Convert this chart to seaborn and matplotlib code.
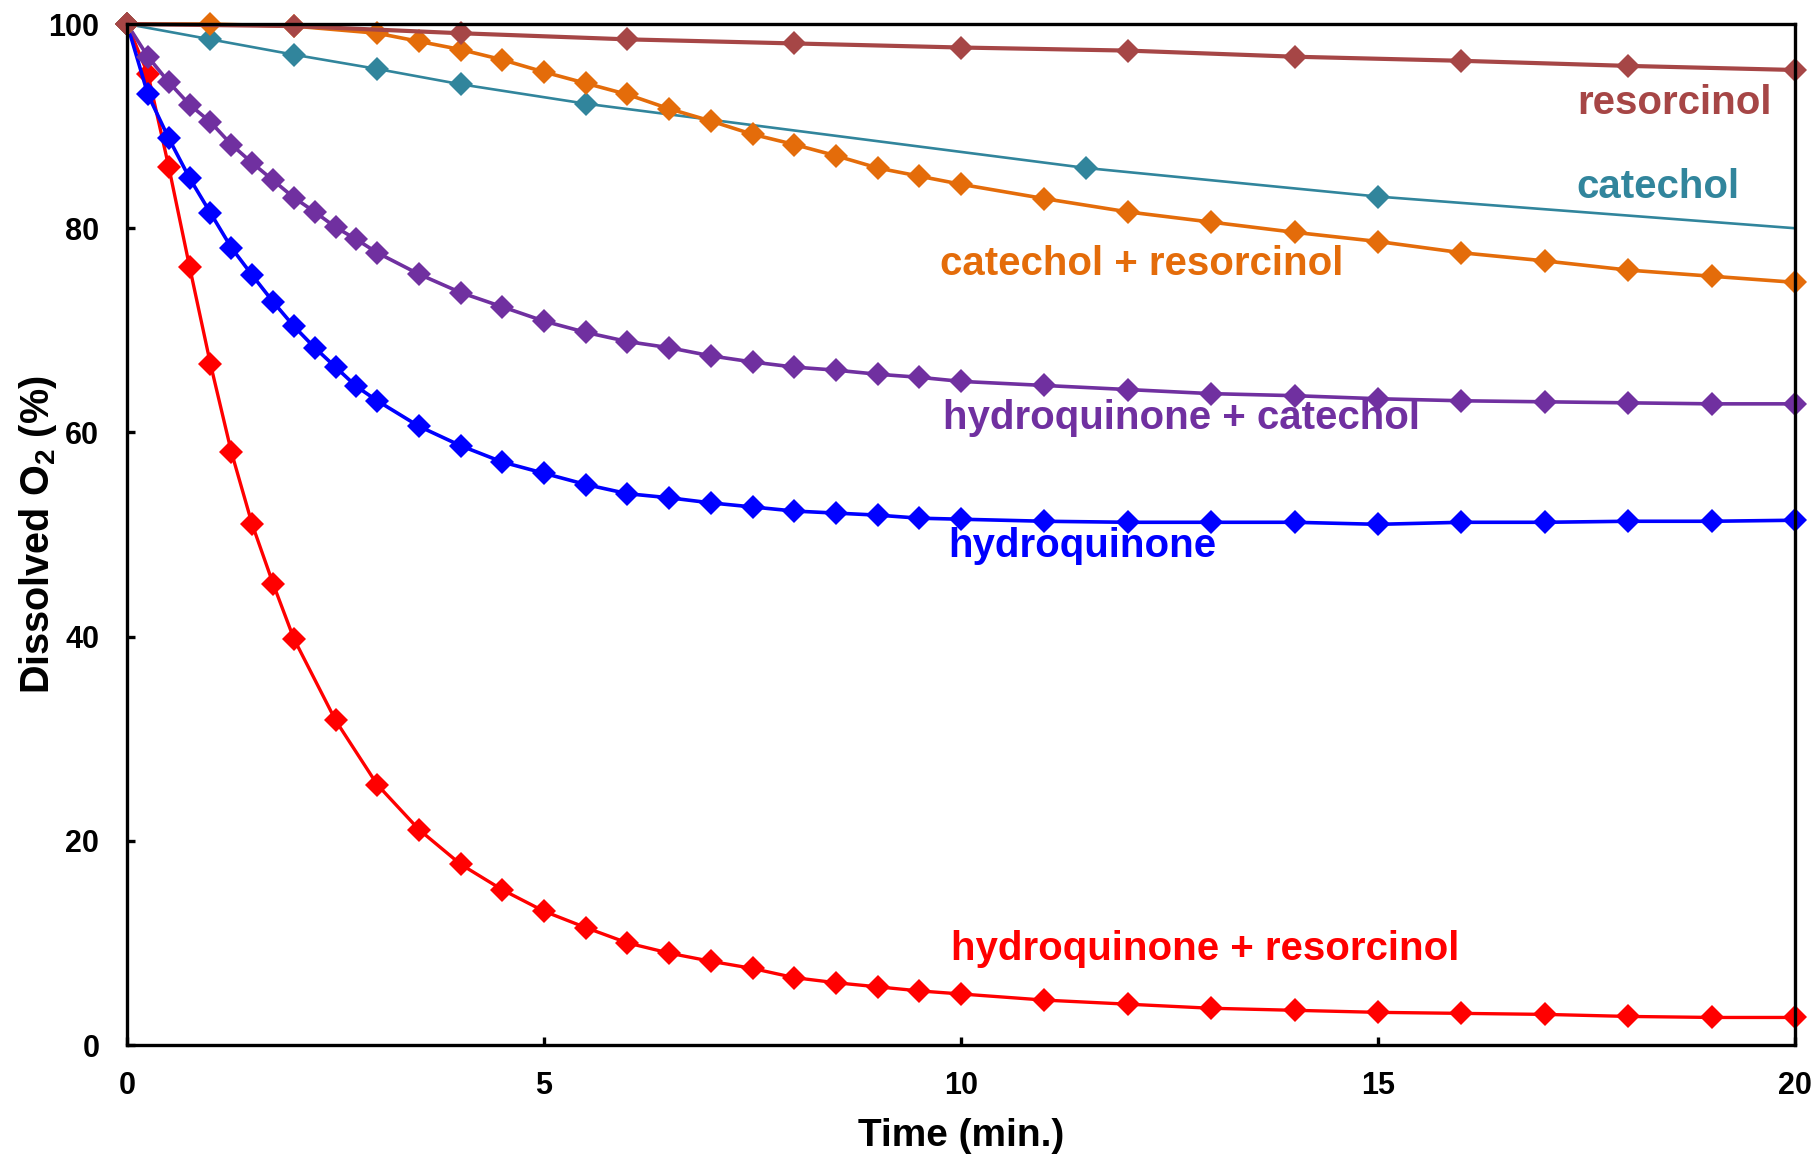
import numpy as np
import pandas as pd
import matplotlib
matplotlib.use("Agg")
import matplotlib.pyplot as plt
import seaborn as sns

# ---------------- data ----------------
t_hr = [0, 0.25, 0.5, 0.75, 1, 1.25, 1.5, 1.75, 2, 2.5, 3, 3.5, 4, 4.5, 5, 5.5, 6, 6.5, 7, 7.5,
        8, 8.5, 9, 9.5, 10, 11, 12, 13, 14, 15, 16, 17, 18, 19, 20]
v_hr = [100, 95.1, 86.0, 76.2, 66.7, 58.1, 51.0, 45.2, 39.8, 31.8, 25.5, 21.1, 17.7, 15.2, 13.1,
        11.5, 10.0, 9.0, 8.2, 7.5, 6.6, 6.1, 5.7, 5.3, 5.0, 4.4, 4.0, 3.6, 3.4, 3.2, 3.1, 3.0,
        2.8, 2.7, 2.7]

t_hq = [0, 0.25, 0.5, 0.75, 1, 1.25, 1.5, 1.75, 2, 2.25, 2.5, 2.75, 3, 3.5, 4, 4.5, 5, 5.5, 6,
        6.5, 7, 7.5, 8, 8.5, 9, 9.5, 10, 11, 12, 13, 14, 15, 16, 17, 18, 19, 20]
v_hq = [100, 93.1, 88.8, 84.9, 81.5, 78.1, 75.4, 72.8, 70.4, 68.3, 66.4, 64.5, 63.1, 60.6, 58.7,
        57.1, 56.0, 54.9, 54.0, 53.6, 53.1, 52.7, 52.3, 52.1, 51.9, 51.6, 51.5, 51.3, 51.2, 51.2,
        51.2, 51.0, 51.2, 51.2, 51.3, 51.3, 51.4]

t_hc = t_hq
v_hc = [100, 96.8, 94.3, 92.1, 90.4, 88.2, 86.4, 84.7, 83.0, 81.6, 80.1, 78.9, 77.6, 75.5, 73.7,
        72.3, 70.9, 69.8, 68.9, 68.3, 67.5, 66.9, 66.4, 66.1, 65.7, 65.4, 65.0, 64.6, 64.2, 63.8,
        63.6, 63.3, 63.1, 63.0, 62.9, 62.8, 62.8]

t_cr = [0, 1, 2, 3, 3.5, 4, 4.5, 5, 5.5, 6, 6.5, 7, 7.5, 8, 8.5, 9, 9.5, 10, 11, 12, 13, 14, 15,
        16, 17, 18, 19, 20]
v_cr = [100, 100, 99.8, 99.1, 98.3, 97.5, 96.5, 95.3, 94.2, 93.1, 91.7, 90.5, 89.2, 88.2, 87.1,
        85.9, 85.1, 84.3, 82.9, 81.6, 80.6, 79.6, 78.7, 77.6, 76.8, 75.9, 75.3, 74.7]

t_cat = [0, 1, 2, 3, 4, 5.5, 11.5, 15, 20]
v_cat = [100, 98.5, 97.0, 95.6, 94.1, 92.2, 85.9, 83.1, 80.0]

t_res = [0, 2, 4, 6, 8, 10, 12, 14, 16, 18, 20]
v_res = [100, 99.8, 99.1, 98.5, 98.1, 97.7, 97.4, 96.8, 96.4, 95.9, 95.5]

x_ticks = [0, 5, 10, 15, 20]
y_ticks = [0, 20, 40, 60, 80, 100]

# ---------------- style ----------------
sns.set_theme(style="white")
plt.rcParams["font.family"] = ["Liberation Sans", "DejaVu Sans"]
plt.rcParams["font.weight"] = "bold"
plt.rcParams["mathtext.fontset"] = "custom"
plt.rcParams["mathtext.rm"] = "Liberation Sans:bold"
plt.rcParams["mathtext.it"] = "Liberation Sans:bold"
plt.rcParams["mathtext.bf"] = "Liberation Sans:bold"

fig = plt.figure(figsize=(18.18, 11.56), dpi=100)
ax = fig.add_axes([0.0699, 0.096, 0.9175, 0.8832])

C_RED = "#FF0000"
C_BLUE = "#0000FF"
C_PURPLE = "#7030A0"
C_TEAL = "#31859C"
C_ORANGE = "#E46C0A"
C_BROWN = "#A64646"

series = [
    (t_hr, v_hr, C_RED, 2.4, None),
    (t_hq, v_hq, C_BLUE, 2.6, None),
    (t_hc, v_hc, C_PURPLE, 2.6, None),
    (t_cat, v_cat, C_TEAL, 1.9, list(range(len(t_cat) - 1))),
    (t_cr, v_cr, C_ORANGE, 2.6, None),
    (t_res, v_res, C_BROWN, 3.0, None),
]

for tx, vy, col, lw, mev in series:
    df = pd.DataFrame({"t": tx, "v": vy})
    kw = {}
    if mev is not None:
        kw["markevery"] = mev
    sns.lineplot(data=df, x="t", y="v", ax=ax, color=col, linewidth=lw,
                 marker="D", markersize=12, markeredgewidth=0, clip_on=False,
                 errorbar=None, sort=False, **kw)

ax.set_xlim(0, 20)
ax.set_ylim(0, 100)
ax.set_xticks(x_ticks)
ax.set_yticks(y_ticks)
ax.set_xticklabels([str(v) for v in x_ticks])
ax.set_yticklabels([str(v) for v in y_ticks])

for s in ax.spines.values():
    s.set_visible(True)
    s.set_color("black")
    s.set_linewidth(2.4)

ax.tick_params(axis="both", direction="in", length=6, width=2.4, color="black",
               labelsize=22, labelcolor="black")
ax.tick_params(axis="x", bottom=True, top=False, pad=19)
ax.tick_params(axis="y", left=True, right=False, pad=20)
for lab in ax.get_xticklabels() + ax.get_yticklabels():
    lab.set_fontweight("bold")

ax.set_xlabel("Time (min.)", fontsize=28, fontweight="bold", color="black", labelpad=12)
ax.set_ylabel("Dissolved O$_2$ (%)", fontsize=28.5, fontweight="bold", color="black")
ax.yaxis.set_label_coords(-0.041, 0.5)

lab_kw = dict(fontsize=29, fontweight="bold", va="baseline")
ax.text(19.72, 91.2, "resorcinol", color=C_BROWN, ha="right", **lab_kw)
ax.text(19.33, 83.0, "catechol", color=C_TEAL, ha="right", **lab_kw)
ax.text(9.75, 75.4, "catechol + resorcinol", color=C_ORANGE, ha="left", **lab_kw)
ax.text(9.78, 60.3, "hydroquinone + catechol", color=C_PURPLE, ha="left", **lab_kw)
ax.text(9.85, 47.8, "hydroquinone", color=C_BLUE, ha="left", **lab_kw)
ax.text(9.88, 8.3, "hydroquinone + resorcinol", color=C_RED, ha="left", **lab_kw)

ax.grid(False)
fig.savefig("out.png", dpi=100, facecolor="white")
